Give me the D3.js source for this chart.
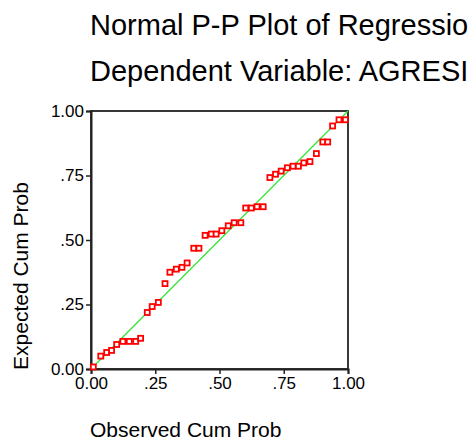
<!DOCTYPE html>
<html>
<head>
<meta charset="utf-8">
<script src="https://cdn.jsdelivr.net/npm/d3@7"></script>
<style>
  body { margin: 0; background: #fff; overflow: hidden; }
  svg { display: block; font-family: Arial, "Liberation Sans", sans-serif; }
</style>
</head>
<body>
<svg width="472" height="444"></svg>
<script>
const svg = d3.select("svg");

// observed vs expected cumulative probabilities
const observed = [0.009, 0.038, 0.061, 0.080, 0.100, 0.124, 0.149, 0.174, 0.193, 0.219,
  0.238, 0.262, 0.288, 0.307, 0.332, 0.354, 0.374, 0.400, 0.420, 0.444,
  0.468, 0.487, 0.509, 0.534, 0.557, 0.583, 0.602, 0.624, 0.646, 0.670,
  0.696, 0.718, 0.740, 0.764, 0.786, 0.807, 0.828, 0.852, 0.877, 0.902,
  0.921, 0.940, 0.965, 0.990];
const expected = [0.008, 0.050, 0.064, 0.072, 0.095, 0.107, 0.107, 0.107, 0.119, 0.219,
  0.242, 0.258, 0.331, 0.375, 0.387, 0.394, 0.411, 0.468, 0.468, 0.518,
  0.523, 0.523, 0.536, 0.555, 0.567, 0.567, 0.624, 0.624, 0.629, 0.629,
  0.742, 0.755, 0.767, 0.780, 0.786, 0.786, 0.799, 0.804, 0.835, 0.880,
  0.880, 0.942, 0.966, 0.966];
const ticks = [0, 0.25, 0.5, 0.75, 1];
const tickLabels = ["0.00", ".25", ".50", ".75", "1.00"];
// first line is shown cut at the right edge, as in the picture
const titleLines = ["Normal P-P Plot of Regressio", "Dependent Variable: AGRESI"];

const plotLeft = 91, plotRight = 348, plotTop = 111, plotBottom = 369;

const x = d3.scaleLinear().domain([0, 1]).range([plotLeft, plotRight]);
const y = d3.scaleLinear().domain([0, 1]).range([plotBottom, plotTop]);

// titles
svg.selectAll(".title")
  .data(titleLines)
  .enter().append("text")
  .attr("class", "title")
  .attr("x", 90)
  .attr("y", (d, i) => 35 + i * 46)
  .attr("font-size", 29)
  .attr("fill", "#000")
  .text(d => d);

// frame
svg.append("rect")
  .attr("x", plotLeft).attr("y", plotTop)
  .attr("width", plotRight - plotLeft).attr("height", plotBottom - plotTop)
  .attr("fill", "#fff")
  .attr("stroke", "#222")
  .attr("stroke-width", 1.8);

// axes
const xAxis = svg.append("g")
  .attr("transform", "translate(0," + plotBottom + ")")
  .call(d3.axisBottom(x).tickValues(ticks).tickFormat((d, i) => tickLabels[i]).tickSizeOuter(0).tickSize(5).tickPadding(3));
const yAxis = svg.append("g")
  .attr("transform", "translate(" + plotLeft + ",0)")
  .call(d3.axisLeft(y).tickValues(ticks).tickFormat((d, i) => tickLabels[i]).tickSizeOuter(0).tickSize(5).tickPadding(2));

[xAxis, yAxis].forEach(g => {
  g.select(".domain").attr("stroke", "#222").attr("stroke-width", 2);
  g.selectAll(".tick line").attr("stroke", "#222").attr("stroke-width", 1.5);
  g.selectAll(".tick text")
    .attr("font-size", 17)
    .attr("font-family", "Arial, 'Liberation Sans', sans-serif")
    .attr("fill", "#000");
});

// reference diagonal
svg.append("line")
  .attr("x1", x(0)).attr("y1", y(0))
  .attr("x2", x(1)).attr("y2", y(1))
  .attr("stroke", "#2ee62e")
  .attr("stroke-width", 1.2);

// points
svg.selectAll(".point")
  .data(observed.map((o, i) => [o, expected[i]]))
  .enter().append("rect")
  .attr("class", "point")
  .attr("x", d => x(d[0]) - 2.5)
  .attr("y", d => y(d[1]) - 2.5)
  .attr("width", 5)
  .attr("height", 5)
  .attr("fill", "#fff")
  .attr("stroke", "#ff0000")
  .attr("stroke-width", 1.8);

// axis titles
svg.append("text")
  .attr("x", 90)
  .attr("y", 437)
  .attr("font-size", 21)
  .attr("fill", "#000")
  .text("Observed Cum Prob");

svg.append("text")
  .attr("transform", "translate(28,276) rotate(-90)")
  .attr("text-anchor", "middle")
  .attr("font-size", 21)
  .attr("fill", "#000")
  .text("Expected Cum Prob");
</script>
</body>
</html>
